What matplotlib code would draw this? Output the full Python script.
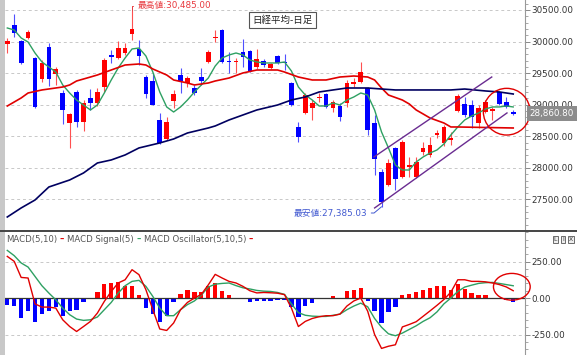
import matplotlib
matplotlib.use("Agg")
import matplotlib.pyplot as plt
import matplotlib.transforms as mtransforms
from matplotlib.patches import Ellipse, Rectangle
from matplotlib.lines import Line2D
from matplotlib.ticker import FixedLocator, MultipleLocator, FormatStrFormatter
from matplotlib.offsetbox import TextArea, HPacker, AnchoredOffsetbox
import numpy as np

plt.rcParams['font.family'] = ['DejaVu Sans', 'Noto Sans CJK JP']

W, H = 577, 355

# daily candles (yen)
opens = [29962, 30262, 30009, 30057, 29740, 29408, 29914, 29487, 29186, 28711,
         29202, 28727, 29107, 29028, 29281, 29788, 29740, 29819, 30120, 29883,
         29439, 29376, 28759, 28458, 29060, 29471, 29344, 29265, 29439, 29677,
         30057, 30184, 29693, 29677, 29835, 29851, 29598, 29693, 29582, 29772,
         29677, 29344, 28648, 28870, 28949, 29107, 29170, 28949, 28980, 29028,
         29329, 29360, 29265, 28711, 27936, 27730, 28316, 27856, 28015, 27856,
         28252, 28205, 28521, 28395, 28442, 28901, 29012, 28996, 28711, 28885,
         28901, 29202, 29044, 28885]
highs = [30057, 30437, 30025, 30184, 29756, 29708, 29978, 29598, 29234, 28870,
         29234, 29075, 29249, 29265, 29740, 29867, 30009, 29978, 30485, 30025,
         29471, 29487, 28870, 28805, 29234, 29582, 29455, 29313, 29582, 29867,
         30184, 30199, 29835, 29740, 30041, 29867, 29883, 29724, 29661, 29788,
         29803, 29360, 28727, 29186, 29075, 29186, 29186, 29075, 29028, 29392,
         29423, 29677, 29281, 28836, 27983, 28141, 28331, 28442, 28173, 28173,
         28410, 28490, 28600, 28680, 28569, 29170, 29123, 29075, 28996, 29075,
         28965, 29218, 29123, 28917]
lows = [29819, 30073, 29645, 30041, 28949, 29360, 29297, 29313, 28695, 28316,
        28648, 28585, 28917, 28980, 29202, 29661, 29724, 29788, 30025, 29629,
        29107, 28996, 28379, 28442, 28949, 29186, 29281, 29154, 29313, 29661,
        29993, 29661, 29503, 29503, 29598, 29518, 29566, 29598, 29566, 29645,
        29550, 28980, 28410, 28854, 28759, 29044, 28949, 28885, 28743, 28965,
        29281, 29344, 28521, 27888, 27385.03, 27714, 27651, 27840, 27856, 27840,
        28205, 28173, 28474, 28347, 28363, 28885, 28805, 28632, 28632, 28870,
        28759, 28996, 28949, 28836]
closes = [30009, 30136, 29661, 30152, 28965, 29661, 29408, 29566, 28917, 28854,
          28727, 29028, 29028, 29202, 29708, 29756, 29898, 29898, 30199, 29772,
          29170, 28996, 28395, 28727, 29170, 29376, 29423, 29186, 29376, 29835,
          30073, 29677, 29677, 29693, 29756, 29534, 29724, 29629, 29645, 29661,
          29661, 28996, 28490, 29154, 29028, 29123, 28965, 29044, 28805, 29344,
          29360, 29518, 28600, 28141, 27461, 28078, 27825, 28410, 28046, 28094,
          28316, 28363, 28553, 28648, 28474, 29139, 28836, 28805, 28949, 29044,
          28933, 29012, 28965, 28860.80]

# moving averages
ma5 = [30215, 30183, 30057, 29993, 29819, 29677, 29598, 29518, 29313, 29186,
       29075, 28996, 28917, 28996, 29186, 29392, 29582, 29740, 29883, 29898,
       29772, 29518, 29202, 28965, 28885, 28965, 29075, 29202, 29313, 29423,
       29613, 29740, 29788, 29819, 29788, 29708, 29677, 29661, 29661, 29661,
       29677, 29534, 29281, 29154, 29075, 28980, 28980, 29028, 28996, 29075,
       29123, 29186, 29154, 28917, 28569, 28316, 28046, 27967, 27967, 28094,
       28173, 28236, 28284, 28379, 28521, 28648, 28759, 28822, 28870, 28933,
       28965, 28965, 28980, 28965]
ma25_idx = [0, 2, 3, 5, 8, 9, 10, 12, 13, 15, 17, 19, 20, 21, 23, 24, 26, 27, 29, 30,
            32, 34, 36, 39, 40, 42, 44, 46, 48, 50, 52, 53, 54, 55, 57, 58, 59, 60, 61, 63,
            64, 65, 73]
ma25 = [28980, 29107, 29186, 29234, 29281, 29313, 29376, 29439, 29471, 29550,
        29629, 29645, 29629, 29566, 29471, 29392, 29344, 29313, 29344, 29376,
        29423, 29503, 29550, 29550, 29518, 29439, 29392, 29392, 29439, 29455,
        29439, 29392, 29265, 29154, 29075, 29012, 28917, 28854, 28790, 28711,
        28648, 28648, 28632]
ma75_idx = [0, 2, 4, 6, 9, 11, 13, 15, 17, 19, 22, 24, 26, 29, 30, 32, 34, 36, 39, 41,
            43, 45, 47, 49, 52, 54, 56, 60, 64, 66, 69, 71, 73]
ma75 = [27223, 27366, 27492, 27698, 27809, 27920, 28078, 28126, 28205, 28316,
        28395, 28458, 28553, 28632, 28664, 28759, 28838, 28917, 28996, 29075,
        29123, 29202, 29234, 29265, 29265, 29249, 29234, 29234, 29234, 29249,
        29218, 29202, 29170]

# hand-drawn channel (index, price)
channel_upper = [(52.9, 28173), (69.9, 29439)]
channel_lower = [(53.0, 27366), (72.1, 28870)]

# MACD panel
macd = [285, 251, 141, 137, -40, -62, -62, -69, -149, -195,
        -229, -195, -160, -103, -23, 45, 103, 125, 194, 160,
        57, -80, -212, -222, -171, -80, -30, 0, 25, 90,
        162, 137, 114, 103, 80, 50, 35, 38, 36, 33,
        23, -69, -195, -160, -140, -128, -121, -121, -110, -55,
        -20, 0, -90, -250, -345, -330, -320, -198, -181, -162,
        -125, -88, -50, -10, 40, 125, 125, 114, 114, 111,
        103, 92, 76, 50]
signal = [326, 290, 240, 212, 148, 84, 34, -12, -69, -114,
          -144, -153, -149, -130, -80, -30, 34, 84, 114, 121,
          80, 11, -69, -121, -121, -80, -45, -20, 20, 75,
          95, 100, 103, 85, 70, 62, 52, 47, 45, 38,
          25, -40, -100, -118, -124, -126, -126, -118, -110, -80,
          -55, -35, -60, -140, -200, -245, -258, -240, -215, -190,
          -160, -135, -95, -40, 0, 45, 75, 88, 100, 105,
          107, 100, 92, 84]
osc = [-46, -53, -137, -92, -167, -108, -92, -62, -121, -92,
       -85, -30, 0, 38, 98, 103, 107, 84, 84, 23,
       -69, -108, -167, -121, -30, 30, 52, 38, 43, 84,
       103, 50, 20, 0, 0, -30, -23, -23, -23, -12,
       -12, -62, -130, -57, -34, 0, 0, 11, 0, 50,
       57, 68, -23, -92, -171, -99, -62, 23, 29, 38,
       57, 68, 84, 84, 57, 98, 62, 34, 23, 23,
       0, 0, -12, -30]

RED = '#ff0000'
BLUE = '#0000ff'
GREEN = '#2ea062'

fig = plt.figure(figsize=(W / 100, H / 100), dpi=100)
fig.patch.set_facecolor('white')


def px_axes(x0, y0, x1, y1):
    return fig.add_axes([x0 / W, 1 - y1 / H, (x1 - x0) / W, (y1 - y0) / H])


ax = px_axes(5, 0, 525, 229)
ax2 = px_axes(5, 232, 525, 355)

idx = np.arange(len(closes))
o = np.array(opens, float)
c = np.array(closes, float)
up = c >= o

# candles
ax.vlines(idx, lows, highs, colors=np.where(up, '#ff5050', '#5050ff'), lw=0.8, zorder=2)
body_lo = np.minimum(o, c)
body_h = np.maximum(np.abs(c - o), 16)
ax.bar(idx, body_h, bottom=body_lo, width=0.68, color=np.where(up, RED, BLUE),
       linewidth=0, zorder=3)

ax.plot(idx, ma5, color=GREEN, lw=1.0, zorder=4)
ax.plot(ma25_idx, ma25, color='#e00000', lw=1.2, zorder=4)
ax.plot(ma75_idx, ma75, color='#000060', lw=1.2, zorder=4)

for seg in (channel_upper, channel_lower):
    xs, ys = zip(*seg)
    ax.plot(xs, ys, color='#6a2c91', lw=1.0, zorder=5)

ax.add_patch(Ellipse((72.06, 28890), 6.74, 739, fill=False, ec='#e00000', lw=1.0,
                     clip_on=False, zorder=6))

# high / low labels
i_hi = int(np.argmax(highs))
i_lo = int(np.argmin(lows))
ax.annotate(f'最高値:{highs[i_hi]:,.2f}', xy=(i_hi, highs[i_hi]), xytext=(4, 3.8),
            textcoords='offset points', ha='left', va='center', fontsize=6.3,
            color='#e8383d', zorder=7,
            arrowprops=dict(arrowstyle='-', color='#e8383d', lw=0.7, shrinkA=1, shrinkB=0,
                            relpos=(0, 0.5), connectionstyle='angle,angleA=0,angleB=90,rad=0'))
ax.annotate(f'最安値:{lows[i_lo]:,.2f}', xy=(i_lo, lows[i_lo]), xytext=(-10.4, -4.5),
            textcoords='offset points', ha='right', va='center', fontsize=6.3,
            color='#4058d0', zorder=7,
            arrowprops=dict(arrowstyle='-', color='#4058d0', lw=0.7, shrinkA=1, shrinkB=0,
                            relpos=(1, 0.5), connectionstyle='angle,angleA=0,angleB=40,rad=0'))

ax.text(0.533, 0.913, '日経平均-日足', transform=ax.transAxes, ha='center', va='center',
        fontsize=6.8, family=['Noto Sans CJK JP', 'DejaVu Sans'], color='#222', zorder=8,
        bbox=dict(boxstyle='square,pad=0.35', fc='white', ec='#555', lw=0.8))

trans = mtransforms.blended_transform_factory(ax.transAxes, ax.transData)
ax.text(1 + 4.6 / 520, closes[-1], f'{closes[-1]:,.2f}', transform=trans, ha='left',
        va='center', fontsize=6.3, color='white', zorder=10, clip_on=False,
        bbox=dict(boxstyle='square,pad=0.3', fc='#8c8c8c', ec='none'))

ax.set_xlim(-0.33, 74.7)
ax.set_ylim(27033, 30658)
ax.yaxis.set_major_locator(FixedLocator(np.arange(27500, 30501, 500)))
ax.yaxis.set_minor_locator(MultipleLocator(100))

# MACD
osc_a = np.array(osc)
ax2.bar(idx, osc_a, width=0.62, color=np.where(osc_a >= 0, RED, BLUE), linewidth=0, zorder=2)
ax2.axhline(0, color='#333', lw=0.9, zorder=3)
ax2.plot(idx, signal, color=GREEN, lw=1.0, zorder=4)
ax2.plot(idx, macd, color='#e00000', lw=1.0, zorder=5)
ax2.add_patch(Ellipse((72.8, 77), 5.3, 183, fill=False, ec='#e00000', lw=1.0,
                      clip_on=False, zorder=6))
ax2.set_xlim(-0.33, 74.7)
ax2.set_ylim(-390, 452)
ax2.yaxis.set_major_locator(FixedLocator([-250, 0, 250]))
ax2.yaxis.set_minor_locator(MultipleLocator(50))

for a in (ax, ax2):
    a.yaxis.tick_right()
    a.yaxis.set_major_formatter(FormatStrFormatter('%.2f'))
    a.tick_params(axis='y', which='major', direction='out', length=3.5, width=0.7,
                  color='#888', labelsize=6.3, labelcolor='#333', pad=1.2)
    a.tick_params(axis='y', which='minor', direction='out', length=1.8, width=0.6, color='#999')
    a.tick_params(axis='x', bottom=False, labelbottom=False)
    for s in ('top', 'left', 'bottom'):
        a.spines[s].set_visible(False)
    a.spines['right'].set_color('#999')
    a.spines['right'].set_linewidth(0.8)
    a.grid(axis='y', which='major', color='#c8c8c8', ls=(0, (3, 3)), lw=0.7, zorder=0)
    a.set_axisbelow(True)

# MACD legend
parts = [('MACD(5,10)', '#555', 'normal'), ('–', '#e00000', 'bold'),
         ('MACD Signal(5)', '#555', 'normal'), ('–', GREEN, 'bold'),
         ('MACD Oscillator(5,10,5)', '#555', 'normal'), ('–', '#e00000', 'bold')]
pack = HPacker(children=[TextArea(t, textprops=dict(color=col, fontsize=6.1, fontweight=w))
                         for t, col, w in parts], align='baseline', pad=0, sep=2.0)
ax2.add_artist(AnchoredOffsetbox(loc='upper left', child=pack, pad=0, borderpad=0,
                                 frameon=False, bbox_to_anchor=(1 / 520, 1 - 3 / 123),
                                 bbox_transform=ax2.transAxes))

for k, ch in enumerate('LIX'):
    fig.text((555.3 + 8 * k) / W, 1 - 239.2 / H, ch, fontsize=4.3, ha='center', va='center',
             color='#333', bbox=dict(boxstyle='square,pad=0.18', fc='#eeeeee', ec='#555', lw=0.6))

fig.patches.append(Rectangle((0, 0), 5 / W, 1, transform=fig.transFigure,
                             fc='#c8c8c8', ec='none'))
fig.add_artist(Line2D([0, 1], [1 - 230.5 / H] * 2, transform=fig.transFigure,
                      color='#444', lw=1.4))

fig.savefig('out.png', dpi=100)
